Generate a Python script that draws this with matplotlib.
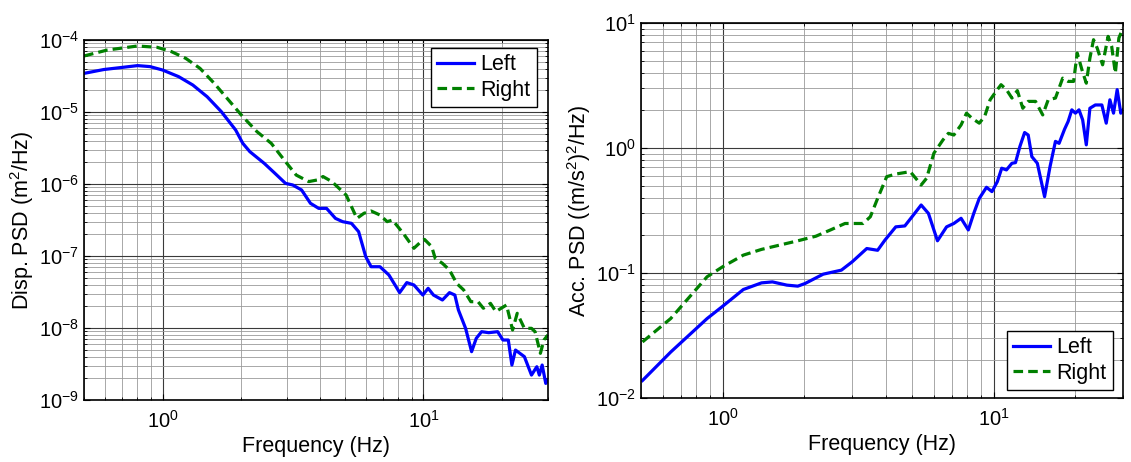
import matplotlib
matplotlib.use('Agg')
import matplotlib.pyplot as plt
from matplotlib.ticker import LogLocator, NullFormatter

plt.rcParams['font.family'] = ['Liberation Sans', 'DejaVu Sans']
plt.rcParams['mathtext.fontset'] = 'custom'
plt.rcParams['mathtext.rm'] = 'Liberation Sans'
plt.rcParams['mathtext.it'] = 'Liberation Sans:italic'
plt.rcParams['mathtext.default'] = 'regular'

# displacement PSD, left panel
disp_f_left = [0.50, 0.595, 0.802, 0.896, 1.0, 1.152, 1.306, 1.482, 1.680, 1.906,
               2.030, 2.161, 2.451, 2.694, 2.960, 3.152, 3.410, 3.689, 3.966, 4.250,
               4.599, 4.897, 5.297, 5.641, 6.006, 6.297, 6.81, 7.37, 7.85, 8.10,
               8.63, 9.19, 9.94, 10.42, 10.92, 11.82, 12.58, 13.19, 13.61, 14.50,
               15.29, 15.93, 16.70, 17.78, 19.24, 20.16, 21.14, 21.82, 22.52, 24.36,
               25.94, 27.19, 27.80, 28.50, 29.42, 30.0]
disp_left = [3.44e-5, 3.89e-5, 4.41e-5, 4.27e-5, 3.83e-5, 3.10e-5, 2.37e-5, 1.63e-5, 1.01e-5, 5.62e-6,
             3.67e-6, 2.81e-6, 1.94e-6, 1.41e-6, 1.02e-6, 9.7e-7, 8.26e-7, 5.39e-7, 4.59e-7, 4.59e-7,
             3.33e-7, 3.00e-7, 2.84e-7, 2.18e-7, 9.8e-8, 7.1e-8, 7.1e-8, 5.45e-8, 3.75e-8, 3.10e-8,
             4.27e-8, 3.96e-8, 2.87e-8, 3.56e-8, 2.87e-8, 2.45e-8, 3.10e-8, 2.87e-8, 1.78e-8, 9.9e-9,
             4.69e-9, 7.18e-9, 8.89e-9, 8.61e-9, 8.89e-9, 6.81e-9, 6.81e-9, 3.06e-9, 4.94e-9, 4.0e-9,
             2.22e-9, 2.90e-9, 2.22e-9, 3.06e-9, 1.70e-9, 1.90e-9]

disp_f_right = [0.50, 0.614, 0.802, 0.954, 1.082, 1.227, 1.391, 1.578, 1.789, 2.030,
                2.301, 2.610, 2.960, 3.253, 3.632, 3.929, 4.119, 4.456, 5.053, 5.556,
                5.914, 6.297, 6.81, 7.256, 7.606, 8.357, 9.19, 9.78, 10.09, 10.75,
                11.09, 11.82, 12.58, 13.40, 14.26, 15.19, 16.18, 16.96, 18.06, 18.94,
                19.85, 20.81, 21.95, 22.87, 24.36, 25.94, 26.77, 28.06, 28.95, 30.0]
disp_right = [6.0e-5, 7.26e-5, 8.26e-5, 7.91e-5, 6.89e-5, 5.56e-5, 4.04e-5, 2.50e-5, 1.47e-5, 8.61e-6,
              5.33e-6, 3.67e-6, 2.04e-6, 1.33e-6, 1.08e-6, 1.14e-6, 1.27e-6, 1.08e-6, 7.03e-7, 3.33e-7,
              3.92e-7, 4.22e-7, 3.71e-7, 3.00e-7, 3.16e-7, 2.07e-7, 1.28e-7, 1.58e-7, 1.70e-7, 1.35e-7,
              9.29e-8, 7.91e-8, 6.39e-8, 4.17e-8, 3.37e-8, 2.32e-8, 2.32e-8, 1.88e-8, 2.20e-8, 1.69e-8,
              1.88e-8, 2.09e-8, 9.38e-9, 1.60e-8, 9.9e-9, 9.9e-9, 8.89e-9, 4.45e-9, 6.81e-9, 8.0e-9]

# acceleration PSD, right panel
acc_f_left = [0.506, 0.643, 0.876, 1.0, 1.192, 1.391, 1.526, 1.725, 1.893, 2.013,
              2.349, 2.741, 3.006, 3.401, 3.729, 3.966, 4.351, 4.699, 4.997, 5.398,
              5.742, 6.200, 6.699, 7.124, 7.577, 8.058, 8.440, 8.843, 9.403, 9.847,
              10.31, 10.70, 11.14, 11.67, 12.03, 12.49, 13.00, 13.40, 13.82, 14.48,
              15.40, 16.13, 16.89, 17.42, 18.24, 18.81, 19.41, 20.01, 20.63, 21.28,
              21.95, 22.63, 23.70, 25.05, 26.00, 26.82, 27.66, 28.53, 29.42, 30.0]
acc_left = [0.0138, 0.0233, 0.0432, 0.0542, 0.0738, 0.0834, 0.0849, 0.0800, 0.0785, 0.0824,
            0.0979, 0.1054, 0.123, 0.157, 0.152, 0.183, 0.234, 0.238, 0.282, 0.350,
            0.300, 0.181, 0.234, 0.249, 0.274, 0.221, 0.300, 0.395, 0.485, 0.448,
            0.538, 0.689, 0.668, 0.755, 0.764, 1.03, 1.33, 1.27, 0.853, 0.755,
            0.408, 0.710, 1.13, 1.09, 1.41, 1.63, 2.02, 1.90, 2.02, 1.68,
            1.06, 2.08, 2.21, 2.21, 1.58, 2.43, 1.90, 2.93, 1.90, 2.02]

acc_f_right = [0.506, 0.643, 0.876, 1.0, 1.192, 1.391, 1.893, 2.208, 2.498, 2.826,
               3.297, 3.506, 3.729, 4.029, 4.351, 4.921, 5.154, 5.398, 5.654, 6.014,
               6.495, 6.802, 7.124, 7.577, 7.935, 8.310, 8.843, 9.259, 9.696, 10.31,
               10.64, 11.14, 11.67, 12.22, 12.80, 13.40, 14.26, 15.16, 15.88, 16.89,
               17.96, 18.81, 19.71, 20.32, 21.15, 21.95, 22.63, 23.34, 24.07, 25.21,
               26.41, 27.23, 28.09, 28.95, 30.0]
acc_right = [0.0281, 0.0432, 0.0933, 0.1122, 0.139, 0.1545, 0.181, 0.197, 0.221, 0.249,
             0.249, 0.282, 0.395, 0.590, 0.619, 0.647, 0.573, 0.506, 0.573, 0.908,
             1.16, 1.31, 1.27, 1.53, 1.90, 1.73, 1.58, 1.79, 2.43, 2.93,
             3.21, 2.93, 2.51, 2.88, 2.08, 2.36, 2.36, 1.84, 2.43, 2.51,
             3.62, 3.41, 3.41, 5.75, 4.23, 3.30, 5.24, 7.35, 6.31, 4.63,
             7.82, 6.50, 3.97, 7.59, 9.12]

blue = '#0000ff'
green = '#008000'


def style_axes(ax, ylim):
    ax.set_xscale('log')
    ax.set_yscale('log')
    ax.set_xlim(0.5, 30)
    ax.set_ylim(*ylim)
    ax.xaxis.set_major_locator(LogLocator(base=10, numticks=10))
    ax.xaxis.set_minor_locator(LogLocator(base=10, subs=range(2, 10), numticks=20))
    ax.yaxis.set_major_locator(LogLocator(base=10, numticks=10))
    ax.yaxis.set_minor_locator(LogLocator(base=10, subs=range(2, 10), numticks=20))
    ax.xaxis.set_minor_formatter(NullFormatter())
    ax.yaxis.set_minor_formatter(NullFormatter())
    ax.grid(True, which='major', color='#3a3a3a', lw=0.8)
    ax.grid(True, which='minor', color='#9a9a9a', lw=0.6)
    ax.set_axisbelow(True)
    ax.tick_params(which='both', direction='in', top=True, right=True, labelsize=14.5)
    ax.tick_params(axis='x', which='major', pad=7)
    ax.tick_params(which='major', length=4)
    ax.tick_params(which='minor', length=2)
    for s in ax.spines.values():
        s.set_linewidth(1.2)
    ax.set_xlabel('Frequency (Hz)', fontsize=15.5, labelpad=3)


fig = plt.figure(figsize=(11.31, 4.62), dpi=100)
ax1 = fig.add_axes([0.0743, 0.1342, 0.4102, 0.7792])
ax2 = fig.add_axes([0.5668, 0.1385, 0.4262, 0.8117])

ax1.plot(disp_f_left, disp_left, color=blue, lw=2.3, label='Left')
ax1.plot(disp_f_right, disp_right, color=green, lw=2.3, dashes=(3, 1.6), label='Right')
style_axes(ax1, (1e-9, 1e-4))
ax1.set_ylabel('Disp. PSD (m$^2$/Hz)', fontsize=15.5, labelpad=2)
leg1 = ax1.legend(loc='upper right', bbox_to_anchor=(0.976, 0.978), fontsize=15.5,
                  fancybox=False, edgecolor='black', framealpha=1, handlelength=1.7,
                  borderpad=0.3, labelspacing=0.2, handletextpad=0.3, borderaxespad=0)
leg1.get_frame().set_linewidth(1.0)

ax2.plot(acc_f_left, acc_left, color=blue, lw=2.3, label='Left')
ax2.plot(acc_f_right, acc_right, color=green, lw=2.3, dashes=(3, 1.6), label='Right')
style_axes(ax2, (1e-2, 1e1))
ax2.set_ylabel('Acc. PSD ((m/s$^2$)$^2$/Hz)', fontsize=15.5, labelpad=2)
leg2 = ax2.legend(loc='lower right', bbox_to_anchor=(0.979, 0.021), fontsize=15.5,
                  fancybox=False, edgecolor='black', framealpha=1, handlelength=1.7,
                  borderpad=0.3, labelspacing=0.2, handletextpad=0.3, borderaxespad=0)
leg2.get_frame().set_linewidth(1.0)

fig.savefig('out.png', dpi=100)
